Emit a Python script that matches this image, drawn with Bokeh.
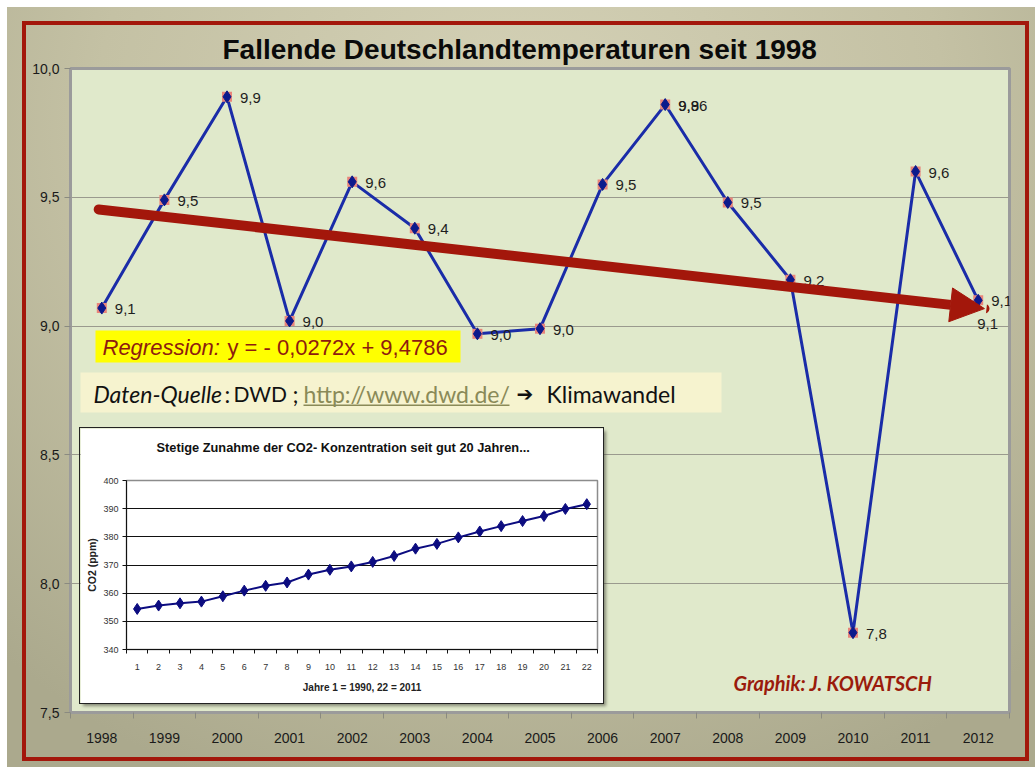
from bokeh.plotting import figure
from bokeh.models import (Range1d, FixedTicker, CustomJSTickFormatter, Arrow, NormalHead,
                          Label, BoxAnnotation, ColumnDataSource, Title)
from bokeh.embed import file_html
from bokeh.resources import INLINE
from bokeh.core.properties import value

# ---------------- data ----------------
years = ["1998", "1999", "2000", "2001", "2002", "2003", "2004", "2005",
         "2006", "2007", "2008", "2009", "2010", "2011", "2012"]
temps = [9.07, 9.49, 9.89, 9.02, 9.56, 9.38, 8.97, 8.99,
         9.55, 9.86, 9.48, 9.18, 7.81, 9.60, 9.10]
temp_labels = ["9,1", "9,5", "9,9", "9,0", "9,6", "9,4", "9,0", "9,0",
               "9,5", "9,9", "9,5", "9,2", "7,8", "9,6", "9,1"]
extra_label_years = ["2007", "2012"]
extra_labels = ["9,86", "9,1"]
reg_slope = -0.0272
reg_intercept = 9.4786
temp_ticks = [7.5, 8.0, 8.5, 9.0, 9.5, 10.0]

co2_years = list(range(1, 23))
co2_ppm = [354.4, 355.6, 356.4, 357.0, 358.9, 360.9, 362.6, 363.8, 366.6, 368.3, 369.5,
           371.1, 373.2, 375.8, 377.5, 379.8, 381.9, 383.8, 385.6, 387.4, 389.9, 391.6]
co2_ticks = [340, 350, 360, 370, 380, 390, 400]

# ---------------- styling helpers (page pixel -> data coords for annotation placement) ----------------
FL, FT, PXX, PXY = 70.0, 68.0, 939.0 / 15, 644.0 / 2.5
def X(px):
    return (px - FL) / PXX - 0.5
def Y(py):
    return 10.0 - (py - FT) / PXY

RED = "#a3170b"
SANS = "Liberation Sans"
LATO = "Lato"

idx = list(range(len(years)))

p = figure(width=1035, height=767, output_backend="svg", toolbar_location=None,
           x_range=Range1d(-0.5, 14.5), y_range=Range1d(7.5, 10.0),
           min_border_left=70, min_border_right=26, min_border_top=68, min_border_bottom=55)
p.border_fill_color = None
p.border_fill_alpha = 0
p.background_fill_color = "#e0e9cb"
p.outline_line_color = "#9b9b9b"
p.outline_line_width = 3
p.styles = {
    "background": (
        f"linear-gradient({RED},{RED}) 22px 21px / 1007px 4px no-repeat, "
        f"linear-gradient({RED},{RED}) 22px 757px / 1007px 4px no-repeat, "
        f"linear-gradient({RED},{RED}) 22px 21px / 4px 740px no-repeat, "
        f"linear-gradient({RED},{RED}) 1025px 21px / 4px 740px no-repeat, "
        "radial-gradient(ellipse 75% 95% at 50% 15%, #d4d1b6 0%, #c4c1a4 55%, #aba98d 100%) "
        "7px 7px / 1028px 760px no-repeat, #ffffff"
    )
}

p.title.text = "Fallende Deutschlandtemperaturen seit 1998"
p.title.text_font = SANS
p.title.text_font_style = "bold"
p.title.text_font_size = "28px"
p.title.text_color = "#0a0a0a"
p.title.align = "left"
p.title.offset = 152
p.title.standoff = 8

# x axis
p.xaxis.ticker = FixedTicker(ticks=idx, minor_ticks=[i - 0.5 for i in range(len(years) + 1)])
p.xaxis.major_label_overrides = {i: y for i, y in enumerate(years)}
p.xaxis.major_tick_line_color = None
p.xaxis.major_tick_out = 0
p.xaxis.minor_tick_in = 0
p.xaxis.minor_tick_out = 6
p.xaxis.minor_tick_line_color = "#8a8a80"
p.xaxis.axis_line_color = "#9b9b9b"
p.xaxis.axis_line_width = 2
p.xaxis.major_label_standoff = 14
p.xaxis.major_label_text_font = SANS
p.xaxis.major_label_text_font_size = "14px"
p.xaxis.major_label_text_color = "#1a1a1a"

# y axis
p.yaxis.ticker = FixedTicker(ticks=temp_ticks, minor_ticks=[])
p.yaxis.formatter = CustomJSTickFormatter(code="return tick.toFixed(1).replace('.', ',');")
p.yaxis.major_tick_in = 0
p.yaxis.major_tick_out = 6
p.yaxis.major_tick_line_color = "#8a8a80"
p.yaxis.axis_line_color = "#9b9b9b"
p.yaxis.axis_line_width = 2
p.yaxis.major_label_standoff = 5
p.yaxis.major_label_text_font = SANS
p.yaxis.major_label_text_font_size = "14px"
p.yaxis.major_label_text_color = "#1a1a1a"

p.xgrid.visible = False
p.ygrid.ticker = FixedTicker(ticks=temp_ticks[1:-1])
p.ygrid.grid_line_color = "#9a9a8e"
p.ygrid.grid_line_width = 1

# annotation boxes
p.add_layout(BoxAnnotation(left=X(95), right=X(460), top=Y(330), bottom=Y(362),
                           fill_color="#ffff00", fill_alpha=1, line_color=None, level="underlay"))
p.add_layout(BoxAnnotation(left=X(80), right=X(721), top=Y(372), bottom=Y(412),
                           fill_color="#f6f3cf", fill_alpha=1, line_color=None, level="underlay"))

# temperature series
src = ColumnDataSource(dict(x=idx, y=temps, label=temp_labels))
p.line("x", "y", source=src, line_color="#1a2ca8", line_width=3)
p.scatter("x", "y", source=src, marker="square", size=10, fill_color="#e8847a", line_color=None)
p.scatter("x", "y", source=src, marker="diamond", size=12, fill_color="#0c1a8c", line_color="#0c1a8c")
p.text("x", "y", text="label", source=src, x_offset=13, y_offset=1, text_baseline="middle",
       text_font=value(SANS), text_font_size="15px", text_color="#1e1e1e")

ex_x = [years.index(y) for y in extra_label_years]
ex_y = [temps[i] for i in ex_x]
p.text(ex_x, ex_y, text=extra_labels, x_offset=[13, -1], y_offset=[1, 24], text_baseline="middle",
       text_font=value(SANS), text_font_size="15px", text_color="#1e1e1e")

# regression arrow
def reg(i):
    return reg_intercept + reg_slope * (i + 1)
x0, x1 = -0.05, 14.1
p.add_layout(Arrow(end=NormalHead(size=34, fill_color=RED, line_color=RED, line_width=1),
                   x_start=x0, y_start=reg(x0), x_end=x1, y_end=reg(x1),
                   line_color=RED, line_width=10, line_cap="round"))

# text annotations
p.add_layout(Label(x=X(102), y=Y(347), text="Regression:", text_font=SANS, text_font_style="italic",
                   text_font_size="22px", text_color="#8e1b0f", text_baseline="middle"))
p.add_layout(Label(x=X(227), y=Y(347), text="y =  - 0,0272x + 9,4786", text_font=SANS,
                   text_font_size="22px", text_color="#8e1b0f", text_baseline="middle"))

p.add_layout(Label(x=X(93), y=Y(393), text="Daten-Quelle", text_font=LATO, text_font_style="italic",
                   text_font_size="23px", text_color="#111111", text_baseline="middle"))
p.add_layout(Label(x=X(224), y=Y(393), text=":", text_font=LATO,
                   text_font_size="23px", text_color="#111111", text_baseline="middle"))
p.add_layout(Label(x=X(233), y=Y(393), text="DWD", text_font=LATO,
                   text_font_size="21px", text_color="#111111", text_baseline="middle"))
p.add_layout(Label(x=X(292), y=Y(393), text=";", text_font=LATO,
                   text_font_size="23px", text_color="#111111", text_baseline="middle"))
p.add_layout(Label(x=X(303), y=Y(393), text="http://www.dwd.de/", text_font=LATO,
                   text_font_size="23px", text_color="#8a8a58", text_baseline="middle"))
p.add_layout(BoxAnnotation(left=X(303), right=X(509), top=Y(404), bottom=Y(405.5),
                           fill_color="#8a8a58", fill_alpha=1, line_color=None))
p.add_layout(Label(x=X(516), y=Y(393), text="➔", text_font="DejaVu Sans", text_font_style="bold",
                   text_font_size="20px", text_color="#111111", text_baseline="middle"))
p.add_layout(Label(x=X(546), y=Y(393), text="Klimawandel", text_font=LATO,
                   text_font_size="23px", text_color="#111111", text_baseline="middle"))

p.add_layout(Label(x=X(733), y=Y(682), text="Graphik: J. KOWATSCH", text_font=LATO,
                   text_font_style="bold italic", text_font_size="20px", text_color="#9a1b0c",
                   text_baseline="middle"))

# ---------------- inset CO2 chart ----------------
q = figure(width=523, height=275, output_backend="svg", toolbar_location=None,
           x_range=Range1d(0.5, 22.5), y_range=Range1d(340, 400),
           min_border_left=46, min_border_right=6, min_border_top=52, min_border_bottom=54)
q.background_fill_color = "white"
q.border_fill_color = "white"
q.outline_line_color = "#8c8c8c"
q.outline_line_width = 1.5
q.styles = {"position": "absolute", "left": "80px", "top": "428px", "z-index": "5",
            "outline": "1.5px solid #222222", "box-shadow": "3px 3px 3px rgba(60,60,50,0.55)"}

# empty spacer panel between the frame and the title
q.add_layout(Title(text=" ", text_font_size="20px", standoff=0), "above")

q.title.text = "Stetige Zunahme der CO2- Konzentration seit gut 20 Jahren..."
q.title.text_font = SANS
q.title.text_font_style = "bold"
q.title.text_font_size = "12.8px"
q.title.text_color = "#111111"
q.title.align = "left"
q.title.offset = 30
q.title.standoff = 4

q.xaxis.ticker = FixedTicker(ticks=co2_years, minor_ticks=[i + 0.5 for i in range(0, 23)])
q.xaxis.major_tick_line_color = None
q.xaxis.major_tick_out = 0
q.xaxis.minor_tick_in = 0
q.xaxis.minor_tick_out = 4
q.xaxis.minor_tick_line_color = "#111111"
q.xaxis.axis_line_color = "#111111"
q.xaxis.major_label_standoff = 10
q.xaxis.major_label_text_font = SANS
q.xaxis.major_label_text_font_size = "9px"
q.xaxis.major_label_text_color = "#333333"
q.xaxis.axis_label = "Jahre 1 = 1990, 22 = 2011"
q.xaxis.axis_label_text_font = SANS
q.xaxis.axis_label_text_font_style = "bold"
q.xaxis.axis_label_text_font_size = "10px"
q.xaxis.axis_label_text_color = "#222222"
q.xaxis.axis_label_standoff = 9

q.yaxis.ticker = FixedTicker(ticks=co2_ticks, minor_ticks=[])
q.yaxis.major_tick_in = 0
q.yaxis.major_tick_out = 4
q.yaxis.major_tick_line_color = "#111111"
q.yaxis.axis_line_color = "#111111"
q.yaxis.major_label_standoff = 4
q.yaxis.major_label_text_font = SANS
q.yaxis.major_label_text_font_size = "9px"
q.yaxis.major_label_text_color = "#333333"
q.yaxis.axis_label = "CO2 (ppm)"
q.yaxis.axis_label_text_font = SANS
q.yaxis.axis_label_text_font_style = "bold"
q.yaxis.axis_label_text_font_size = "10.5px"
q.yaxis.axis_label_text_color = "#222222"
q.yaxis.axis_label_standoff = 2

q.xgrid.visible = False
q.ygrid.ticker = FixedTicker(ticks=co2_ticks[1:-1])
q.ygrid.grid_line_color = "#111111"
q.ygrid.grid_line_width = 1

q.line(co2_years, co2_ppm, line_color="#0c0c80", line_width=2)
q.scatter(co2_years, co2_ppm, marker="diamond", size=11, fill_color="#0c0c80", line_color="#0c0c80")

open("out.html", "w").write(file_html([p, q], INLINE))
